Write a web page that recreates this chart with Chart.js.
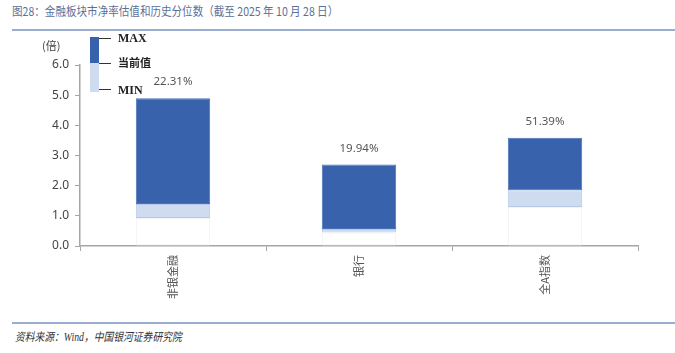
<!DOCTYPE html>
<html>
<head>
<meta charset="utf-8">
<script src="https://cdn.jsdelivr.net/npm/chart.js@4.4.1/dist/chart.umd.min.js"></script>
<style>
  body { margin: 0; width: 675px; height: 353px; background: #fff; overflow: hidden; position: relative; font-family: "Noto Sans CJK SC", "Noto Sans", sans-serif; }
  #title { position: absolute; left: 12px; top: 2px; font-size: 12px; color: #5b6f98; white-space: nowrap; transform: scaleX(0.88); transform-origin: left top; }
  .rule { position: absolute; left: 12px; width: 663px; height: 2px; background: #9aaed2; }
  #source { position: absolute; left: 15px; top: 328px; font-size: 11.5px; color: #333; font-style: italic; white-space: nowrap; font-family: "Liberation Serif", "Noto Sans CJK SC", serif; transform: scaleX(0.85); transform-origin: left top; }
  #unit { position: absolute; left: 42px; top: 37px; font-size: 11px; color: #444; }
  #wrap { position: absolute; left: 0; top: 32px; width: 675px; height: 283px; }
  .lg-box { position: absolute; left: 90px; width: 9px; }
  .lg-line { position: absolute; left: 99px; width: 12px; height: 1px; background: #333; }
  .lg-text { position: absolute; left: 118px; font-size: 12px; font-weight: bold; color: #222; line-height: 14px; font-family: "Liberation Serif", "Noto Sans CJK SC", serif; }
</style>
</head>
<body>
<div id="title">图28：金融板块市净率估值和历史分位数（截至 2025 年 10 月 28 日）</div>
<div class="rule" style="top:29px"></div>
<div class="rule" style="top:322px"></div>
<div id="source">资料来源：Wind，中国银河证券研究院</div>
<div id="wrap"><canvas id="chart"></canvas></div>
<div id="unit">(倍)</div>
<div class="lg-box" style="top:37px;height:26px;background:#3862ac"></div>
<div class="lg-box" style="top:63px;height:29px;background:#cfdcf0"></div>
<div class="lg-line" style="top:38px"></div>
<div class="lg-line" style="top:63px"></div>
<div class="lg-line" style="top:89px"></div>
<div class="lg-text" style="top:31px">MAX</div>
<div class="lg-text" style="top:55px;font-size:11px;font-family:'Noto Sans CJK SC',sans-serif">当前值</div>
<div class="lg-text" style="top:83px">MIN</div>
<script>
const categories = ['非银金融', '银行', '全A指数'];
const minValues = [0.93, 0.45, 1.29];
const currentValues = [1.39, 0.56, 1.85];
const maxValues = [4.90, 2.70, 3.59];
const percentiles = ['22.31%', '19.94%', '51.39%'];

// floating bars: base outline, MIN->当前值, 当前值->MAX
const baseBars = minValues.map(v => [0, v]);
const lowBars = minValues.map((v, i) => [v, currentValues[i]]);
const highBars = currentValues.map((v, i) => [v, maxValues[i]]);

const pctLabels = {
    id: 'pctLabels',
    afterDatasetsDraw(chart) {
        const ctx = chart.ctx;
        const meta = chart.getDatasetMeta(2);
        ctx.save();
        ctx.font = '11.5px "Noto Sans", sans-serif';
        ctx.fillStyle = '#555';
        ctx.textAlign = 'center';
        ctx.textBaseline = 'middle';
        meta.data.forEach((bar, i) => {
            ctx.fillText(percentiles[i], bar.x, bar.y - 16);
        });
        ctx.restore();
    }
};

const ctx = document.getElementById('chart').getContext('2d');
new Chart(ctx, {
    type: 'bar',
    data: {
        labels: categories,
        datasets: [
            { data: baseBars, backgroundColor: 'rgba(255,255,255,0)', borderColor: '#f0f3f8', borderWidth: 1, borderSkipped: false },
            { data: lowBars, backgroundColor: '#cfdcf0', borderColor: '#b7c9e8', borderWidth: 1, borderSkipped: false },
            { data: highBars, backgroundColor: '#3862ac', borderColor: '#4a72b8', borderWidth: 1, borderSkipped: false }
        ]
    },
    options: {
        responsive: true,
        maintainAspectRatio: false,
        animation: false,
        layout: { padding: { top: 33, right: 37, left: 0, bottom: 0 } },
        datasets: { bar: { categoryPercentage: 1, barPercentage: 0.4 } },
        plugins: { legend: { display: false }, tooltip: { enabled: false } },
        scales: {
            x: {
                stacked: true,
                grid: { drawOnChartArea: false, offset: true, tickLength: 5, color: '#a6a6a6' },
                border: { color: '#a6a6a6', width: 1.5 },
                ticks: { minRotation: 90, maxRotation: 90, padding: 4, color: '#555', font: { size: 11, family: '"Noto Sans CJK SC", sans-serif' } },
                afterFit: s => { s.height = 69; }
            },
            y: {
                stacked: false,
                min: 0,
                max: 6,
                grid: { drawOnChartArea: false, tickLength: 5, color: '#a6a6a6' },
                border: { color: '#a6a6a6', width: 1.5 },
                ticks: { stepSize: 1, padding: 6, color: '#444', font: { size: 12, family: '"Noto Sans", sans-serif' }, callback: v => v.toFixed(1) },
                afterFit: s => { s.width = 80; }
            }
        }
    },
    plugins: [pctLabels]
});
</script>
</body>
</html>
